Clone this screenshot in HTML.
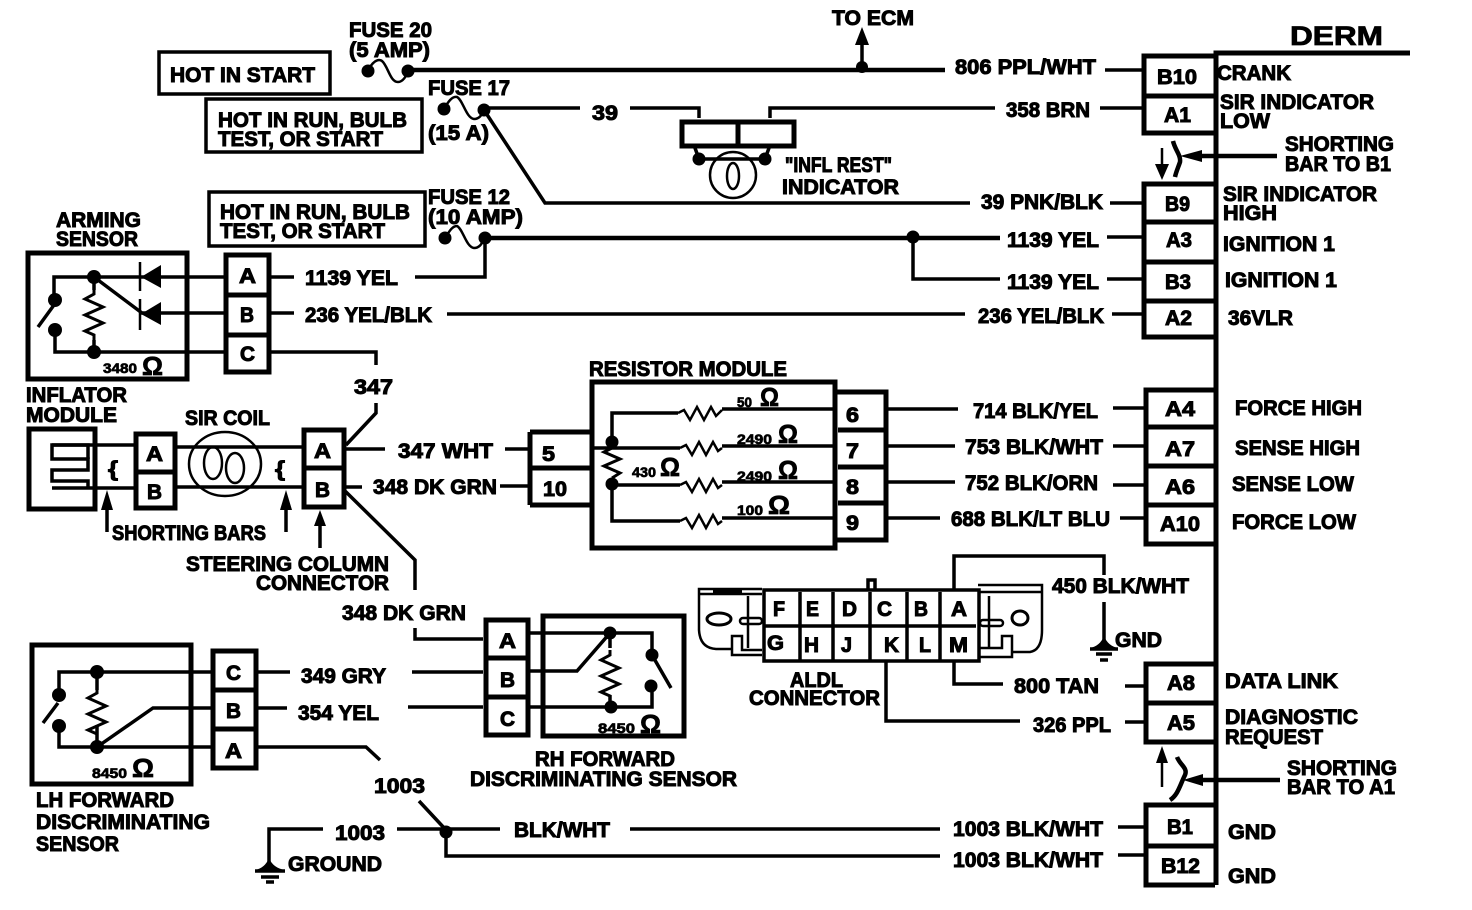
<!DOCTYPE html>
<html><head><meta charset="utf-8"><style>
html,body{margin:0;padding:0;background:#fff}
svg{display:block}
text{font-family:"Liberation Sans",sans-serif;font-weight:bold;font-size:21px;fill:#000;stroke:#000;stroke-width:1px}
.s{font-size:14px;stroke-width:.7px}
.m{font-size:26px;stroke-width:.8px}
.o{font-size:27px;stroke-width:.8px}
.w{fill:none;stroke:#000;stroke-width:3.5}
.h{fill:none;stroke:#000;stroke-width:4.5}
.b{fill:none;stroke:#000;stroke-width:5}
.t{fill:none;stroke:#000;stroke-width:2.5}
</style></head><body>
<svg width="1472" height="910" viewBox="0 0 1472 910" xmlns="http://www.w3.org/2000/svg">
<rect width="1472" height="910" fill="#fff"/>
<defs>
<g id="rv"><path class="t" style="stroke-width:3" d="M0 0 L0 5 L-9 10 L9 18 L-9 26 L9 34 L-9 42 L0 46 L0 51"/></g>
<g id="rh"><path class="t" style="stroke-width:2.5" d="M0 0 L6 -3 L12 7 L19 -6 L26 7 L33 -6 L38 3 L42 0"/></g>
</defs>

<!-- DERM frame -->
<path class="b" d="M1410 53H1216V885"/>
<path class="b" d="M1215 56H1144V133H1215M1144 96H1215"/>
<path class="b" d="M1215 184H1144V337H1215M1144 222H1215M1144 262H1215M1144 301H1215"/>
<path class="b" d="M1215 390H1146V544H1215M1146 427H1215M1146 466H1215M1146 505H1215"/>
<path class="b" d="M1215 664H1146V742H1215M1146 703H1215"/>
<path class="b" d="M1215 805H1146V885H1215M1146 846H1215"/>

<!-- top wires -->
<path class="t" d="M368 71C372 62 378 58 382 61C388 66 390 82 398 82C403 82 406 76 408 72"/>
<path class="h" d="M408 70H945"/><path class="w" d="M1105 70H1143"/>
<path class="w" d="M862 70V42"/>
<polygon points="862,27 855,45 869,45"/>
<circle cx="368" cy="71" r="6.5"/><circle cx="408" cy="71" r="6.5"/><circle cx="862" cy="67" r="6"/>

<path class="t" d="M444 109C448 102 452 96 457 97C463 100 466 118 474 119C480 119 482 114 484 110"/>
<path class="w" d="M484 108H580M630 108H699V118M770 118V108H995M1100 108H1143"/>
<path class="w" d="M484 110L545 203H970M1110 203H1143"/>
<circle cx="444" cy="109" r="6.5"/><circle cx="484" cy="110" r="6.5"/>

<rect x="682" y="122" width="112" height="24" class="b"/><path class="b" d="M738 122V146"/>
<path class="w" d="M695 148L699 159H765L769 148"/>
<circle cx="699" cy="159" r="6.5"/><circle cx="765" cy="159" r="6.5"/>
<circle cx="733" cy="175" r="23" class="t"/>
<ellipse cx="733" cy="176" rx="6" ry="13" class="t"/>

<path class="t" d="M445 238C449 232 452 226 457 226C463 229 466 247 474 248C480 248 482 243 485 238"/>
<path class="h" d="M485 238H1000"/><path class="w" d="M1107 237H1143"/>
<path class="w" d="M913 237V279H1000M1107 279H1143M485 238V277H415"/>
<circle cx="445" cy="238" r="6.5"/><circle cx="485" cy="238" r="6.5"/><circle cx="913" cy="237" r="6.5"/>
<path class="w" d="M447 314H965M1112 314H1143"/>

<!-- label boxes -->
<rect x="159" y="52" width="171" height="42" class="w"/>
<rect x="206" y="99" width="216" height="53" class="w"/>
<rect x="209" y="192" width="216" height="54" class="w"/>

<!-- arming sensor -->
<rect x="28" y="253" width="159" height="126" class="b"/>
<path class="b" d="M226 255H269V372H226ZM226 295H269M226 335H269"/>
<path class="w" d="M54 300V277H224M55 330V352H224M94 277V290M94 340V352"/>
<use href="#rv" x="94" y="289"/>
<path class="w" d="M94 277L142 313M140 313H224M271 277H294M271 313H294M271 352H376V365M38 327L54 305"/>
<circle cx="55" cy="300" r="7"/><circle cx="55" cy="330" r="7"/><circle cx="94" cy="277" r="7"/><circle cx="94" cy="352" r="7"/>
<polygon points="141,277 161,265 161,288"/><polygon points="141,314 161,302 161,325"/>
<path class="t" d="M140 262V291M140 299V330"/>

<!-- inflator & coil -->
<rect x="29" y="429" width="66" height="80" class="b"/>
<path class="w" d="M97 445H52V459H88V470H52V481H88V488"/>
<path class="w" d="M52 445H88V459M52 488H97"/>
<path class="w" d="M97 445H134M97 488H134M176 447H302M176 487H302"/>
<path class="b" d="M136 434H175V508H136ZM136 472H175"/>
<ellipse cx="225" cy="464" rx="36" ry="32" class="t"/>
<ellipse cx="213" cy="463" rx="9" ry="16" class="t"/><ellipse cx="235" cy="468" rx="9" ry="15" class="t"/>
<path class="b" d="M304 430H344V507H304ZM304 468H344"/>
<path class="w" d="M376 403V413L346 445M346 449H385M346 487H362M344 490L415 560V590"/>
<path class="w" d="M505 449H530M500 486H530"/>
<path class="b" d="M530 432H592M530 505H592M530 432V505M530 468H592"/>

<!-- resistor module -->
<rect x="592" y="382" width="243" height="166" class="b"/>
<path class="b" d="M835 392H886V540H835M838 430H886M838 467H886M838 503H886"/>
<path class="w" d="M612 442V413H678M722 409H835M592 448H680M722 446H835M612 485H680M722 482H835M612 485V521H680M722 518H835"/>
<path class="t" d="M678 413L684 410L690 420L697 407L704 420L711 407L716 416L722 410"/>
<use href="#rh" x="680" y="448"/><use href="#rh" x="680" y="485"/><use href="#rh" x="680" y="521"/>
<path class="t" style="stroke-width:3" d="M612 448L604 452L620 459L604 466L620 473L612 478"/>
<circle cx="612" cy="442" r="6.5"/><circle cx="612" cy="484" r="6.5"/>
<path class="w" d="M888 409H958M888 446H955M888 482H955M888 518H940M1113 408H1146M1113 446H1146M1113 485H1146M1120 518H1146"/>

<!-- ALDL -->
<rect x="764" y="590" width="215" height="71" class="w" style="stroke-width:3.5"/>
<path class="w" d="M764 626H976M800 592V660M833 592V660M870 592V660M907 592V660M940 592V660"/>
<path class="w" d="M868 590V580H875V590"/>
<!-- left tab -->
<path class="t" d="M762 589H699V630Q700 648 716 649H732V636H742V650H762M732 649V655H762M748 596V648M700 594H762"/>
<path class="b" d="M713 591H742"/>
<rect x="740" y="618" width="22" height="6" rx="3" class="t"/>
<ellipse cx="719" cy="619" rx="12" ry="6" class="t" style="stroke-width:3"/>
<!-- right tab -->
<path class="t" d="M978 585H1042V630Q1042 650 1030 652H1012V636H1002V648H980M1012 652V657H978M989 596V648M980 592H1042"/>
<rect x="980" y="620" width="23" height="6" rx="3" class="t"/>
<ellipse cx="1020" cy="618" rx="8" ry="7" class="t" style="stroke-width:3"/>
<path class="w" d="M954 590V556H1104V575M1104 602V645M954 662V684H1003M1125 686H1146M886 662V721H1020M1125 722H1146"/>
<path d="M1090 648Q1100 646 1104 636Q1108 646 1118 648Z"/>
<path class="w" d="M1090 649H1118M1096 654H1112M1100 660H1108"/>

<!-- RH sensor -->
<path class="w" d="M415 628V639H483M412 672H483M408 707H483"/>
<path class="b" d="M486 620H528V735H486ZM486 658H528M486 697H528"/>
<rect x="543" y="616" width="141" height="120" class="b"/>
<path class="w" d="M530 633H652V652M530 671H577L610 633M530 707H652V686M610 633V648M610 695V707M652 655L671 688"/>
<use href="#rv" x="610" y="650"/>
<circle cx="610" cy="633" r="6.5"/><circle cx="611" cy="707" r="6.5"/><circle cx="652" cy="655" r="6.5"/><circle cx="651" cy="686" r="6.5"/>

<!-- LH sensor -->
<rect x="32" y="645" width="159" height="139" class="b"/>
<path class="b" d="M213 651H256V768H213ZM213 690H256M213 729H256"/>
<path class="w" d="M59 695V672H213M59 726V747H213M97 672V690M97 725V747M97 747L153 708H213M43 723L58 703M258 672H290M258 708H287M258 747H366L380 760M419 801L446 830"/>
<use href="#rv" x="97" y="688"/>
<circle cx="59" cy="695" r="7"/><circle cx="59" cy="726" r="7"/><circle cx="97" cy="672" r="7"/><circle cx="97" cy="747" r="7"/>

<!-- bottom wires -->
<path class="w" d="M323 829H269V862M397 829H500M630 829H940M1118 827H1146M446 832V856H940M1118 855H1146"/>
<circle cx="446" cy="832" r="6.5"/>
<path d="M255 870Q265 868 269 858Q273 868 285 870Z"/>
<path class="w" d="M255 871H285M261 877H279M266 882H274"/>

<!-- arrows -->
<path class="w" d="M107 532V508M286 532V508M320 548V524"/>
<polygon points="107,490 101,510 113,510"/><polygon points="286,490 280,510 292,510"/><polygon points="320,510 314,526 326,526"/>
<path class="t" d="M1162 148V166"/><polygon points="1162,180 1155,164 1169,164"/>
<path class="t" d="M1162 787V760"/><polygon points="1162,746 1156,763 1168,763"/>
<path class="h" d="M1200 156H1277M1200 780H1280"/>
<polygon points="1180,156 1202,150 1202,162"/><polygon points="1183,780 1203,774 1203,786"/>
<path class="h" d="M1173 141C1175 150 1181 155 1180 162C1178 168 1176 172 1175 177M1177 757C1180 765 1188 768 1185 775C1180 785 1178 795 1170 800"/>

<!-- text -->
<text x="349" y="37" textLength="83" lengthAdjust="spacingAndGlyphs">FUSE 20</text>
<text x="349" y="57" textLength="81" lengthAdjust="spacingAndGlyphs">(5 AMP)</text>
<text x="832" y="25" textLength="82" lengthAdjust="spacingAndGlyphs">TO ECM</text>
<text class="o" x="1290" y="45" textLength="93" lengthAdjust="spacingAndGlyphs">DERM</text>
<text x="955" y="74" textLength="141" lengthAdjust="spacingAndGlyphs">806  PPL/WHT</text>
<text x="1157" y="84" textLength="40" lengthAdjust="spacingAndGlyphs">B10</text>
<text x="1217" y="80" textLength="74" lengthAdjust="spacingAndGlyphs">CRANK</text>
<text x="1164" y="122" textLength="27" lengthAdjust="spacingAndGlyphs">A1</text>
<text x="1220" y="109" textLength="154" lengthAdjust="spacingAndGlyphs">SIR INDICATOR</text>
<text x="1220" y="128" textLength="50" lengthAdjust="spacingAndGlyphs">LOW</text>
<text x="1285" y="151" textLength="109" lengthAdjust="spacingAndGlyphs">SHORTING</text>
<text x="1285" y="171" textLength="106" lengthAdjust="spacingAndGlyphs">BAR TO B1</text>
<text x="170" y="82" textLength="145" lengthAdjust="spacingAndGlyphs">HOT IN START</text>
<text x="218" y="127" textLength="189" lengthAdjust="spacingAndGlyphs">HOT IN RUN, BULB</text>
<text x="218" y="146" textLength="165" lengthAdjust="spacingAndGlyphs">TEST, OR START</text>
<text x="428" y="95" textLength="82" lengthAdjust="spacingAndGlyphs">FUSE 17</text>
<text x="428" y="140" textLength="61" lengthAdjust="spacingAndGlyphs">(15 A)</text>
<text x="592" y="120" textLength="26" lengthAdjust="spacingAndGlyphs">39</text>
<text x="1006" y="117" textLength="84" lengthAdjust="spacingAndGlyphs">358 BRN</text>
<text x="981" y="209" textLength="122" lengthAdjust="spacingAndGlyphs">39  PNK/BLK</text>
<text x="1165" y="211" textLength="25" lengthAdjust="spacingAndGlyphs">B9</text>
<text x="1223" y="201" textLength="154" lengthAdjust="spacingAndGlyphs">SIR INDICATOR</text>
<text x="1223" y="220" textLength="54" lengthAdjust="spacingAndGlyphs">HIGH</text>
<text x="785" y="172" textLength="107" lengthAdjust="spacingAndGlyphs">"INFL REST"</text>
<text x="782" y="194" textLength="117" lengthAdjust="spacingAndGlyphs">INDICATOR</text>
<text x="220" y="219" textLength="190" lengthAdjust="spacingAndGlyphs">HOT IN RUN, BULB</text>
<text x="220" y="238" textLength="165" lengthAdjust="spacingAndGlyphs">TEST, OR START</text>
<text x="428" y="204" textLength="82" lengthAdjust="spacingAndGlyphs">FUSE 12</text>
<text x="428" y="224" textLength="95" lengthAdjust="spacingAndGlyphs">(10 AMP)</text>
<text x="56" y="227" textLength="85" lengthAdjust="spacingAndGlyphs">ARMING</text>
<text x="56" y="246" textLength="82" lengthAdjust="spacingAndGlyphs">SENSOR</text>
<text x="1007" y="247" textLength="92" lengthAdjust="spacingAndGlyphs">1139 YEL</text>
<text x="1166" y="247" textLength="26" lengthAdjust="spacingAndGlyphs">A3</text>
<text x="1223" y="251" textLength="112" lengthAdjust="spacingAndGlyphs">IGNITION 1</text>
<text x="1007" y="289" textLength="92" lengthAdjust="spacingAndGlyphs">1139 YEL</text>
<text x="1165" y="289" textLength="26" lengthAdjust="spacingAndGlyphs">B3</text>
<text x="1225" y="287" textLength="112" lengthAdjust="spacingAndGlyphs">IGNITION 1</text>
<text x="305" y="285" textLength="93" lengthAdjust="spacingAndGlyphs">1139 YEL</text>
<text x="305" y="322" textLength="127" lengthAdjust="spacingAndGlyphs">236 YEL/BLK</text>
<text x="978" y="323" textLength="126" lengthAdjust="spacingAndGlyphs">236 YEL/BLK</text>
<text x="1165" y="325" textLength="27" lengthAdjust="spacingAndGlyphs">A2</text>
<text x="1228" y="325" textLength="65" lengthAdjust="spacingAndGlyphs">36VLR</text>
<text x="239" y="283" textLength="17" lengthAdjust="spacingAndGlyphs">A</text>
<text x="240" y="322" textLength="14" lengthAdjust="spacingAndGlyphs">B</text>
<text x="240" y="361" textLength="15" lengthAdjust="spacingAndGlyphs">C</text>
<text class="s" x="103" y="373" textLength="34" lengthAdjust="spacingAndGlyphs">3480</text>
<text class="m" x="142" y="375" textLength="21" lengthAdjust="spacingAndGlyphs">Ω</text>
<text x="354" y="394" textLength="39" lengthAdjust="spacingAndGlyphs">347</text>
<text x="26" y="402" textLength="101" lengthAdjust="spacingAndGlyphs">INFLATOR</text>
<text x="26" y="422" textLength="91" lengthAdjust="spacingAndGlyphs">MODULE</text>
<text x="185" y="425" textLength="85" lengthAdjust="spacingAndGlyphs">SIR COIL</text>
<text x="146" y="461" textLength="17" lengthAdjust="spacingAndGlyphs">A</text>
<text x="147" y="499" textLength="15" lengthAdjust="spacingAndGlyphs">B</text>
<text x="314" y="458" textLength="17" lengthAdjust="spacingAndGlyphs">A</text>
<text x="315" y="497" textLength="15" lengthAdjust="spacingAndGlyphs">B</text>
<text x="108" y="476" textLength="10" lengthAdjust="spacingAndGlyphs">{</text>
<text x="275" y="476" textLength="10" lengthAdjust="spacingAndGlyphs">{</text>
<text x="398" y="458" textLength="95" lengthAdjust="spacingAndGlyphs">347 WHT</text>
<text x="373" y="494" textLength="124" lengthAdjust="spacingAndGlyphs">348 DK GRN</text>
<text x="542" y="461" textLength="13" lengthAdjust="spacingAndGlyphs">5</text>
<text x="543" y="496" textLength="24" lengthAdjust="spacingAndGlyphs">10</text>
<text x="589" y="376" textLength="198" lengthAdjust="spacingAndGlyphs">RESISTOR MODULE</text>
<text class="s" x="737" y="407" textLength="15" lengthAdjust="spacingAndGlyphs">50</text>
<text class="m" x="760" y="406" textLength="19" lengthAdjust="spacingAndGlyphs">Ω</text>
<text class="s" x="737" y="444" textLength="35" lengthAdjust="spacingAndGlyphs">2490</text>
<text class="m" x="778" y="443" textLength="20" lengthAdjust="spacingAndGlyphs">Ω</text>
<text class="s" x="737" y="481" textLength="35" lengthAdjust="spacingAndGlyphs">2490</text>
<text class="m" x="778" y="479" textLength="20" lengthAdjust="spacingAndGlyphs">Ω</text>
<text class="s" x="737" y="515" textLength="26" lengthAdjust="spacingAndGlyphs">100</text>
<text class="m" x="768" y="514" textLength="22" lengthAdjust="spacingAndGlyphs">Ω</text>
<text class="s" x="632" y="477" textLength="24" lengthAdjust="spacingAndGlyphs">430</text>
<text class="m" x="660" y="476" textLength="20" lengthAdjust="spacingAndGlyphs">Ω</text>
<text x="846" y="422" textLength="13" lengthAdjust="spacingAndGlyphs">6</text>
<text x="846" y="458" textLength="13" lengthAdjust="spacingAndGlyphs">7</text>
<text x="846" y="494" textLength="13" lengthAdjust="spacingAndGlyphs">8</text>
<text x="846" y="530" textLength="13" lengthAdjust="spacingAndGlyphs">9</text>
<text x="973" y="418" textLength="125" lengthAdjust="spacingAndGlyphs">714 BLK/YEL</text>
<text x="965" y="454" textLength="138" lengthAdjust="spacingAndGlyphs">753 BLK/WHT</text>
<text x="965" y="490" textLength="133" lengthAdjust="spacingAndGlyphs">752 BLK/ORN</text>
<text x="951" y="526" textLength="159" lengthAdjust="spacingAndGlyphs">688 BLK/LT BLU</text>
<text x="1165" y="416" textLength="30" lengthAdjust="spacingAndGlyphs">A4</text>
<text x="1165" y="456" textLength="30" lengthAdjust="spacingAndGlyphs">A7</text>
<text x="1165" y="494" textLength="30" lengthAdjust="spacingAndGlyphs">A6</text>
<text x="1160" y="531" textLength="40" lengthAdjust="spacingAndGlyphs">A10</text>
<text x="1235" y="415" textLength="127" lengthAdjust="spacingAndGlyphs">FORCE HIGH</text>
<text x="1235" y="455" textLength="125" lengthAdjust="spacingAndGlyphs">SENSE HIGH</text>
<text x="1232" y="491" textLength="122" lengthAdjust="spacingAndGlyphs">SENSE LOW</text>
<text x="1232" y="529" textLength="124" lengthAdjust="spacingAndGlyphs">FORCE LOW</text>
<text x="112" y="540" textLength="154" lengthAdjust="spacingAndGlyphs">SHORTING BARS</text>
<text x="186" y="571" textLength="203" lengthAdjust="spacingAndGlyphs">STEERING COLUMN</text>
<text x="256" y="590" textLength="133" lengthAdjust="spacingAndGlyphs">CONNECTOR</text>
<text x="342" y="620" textLength="124" lengthAdjust="spacingAndGlyphs">348 DK GRN</text>
<text x="499" y="648" textLength="17" lengthAdjust="spacingAndGlyphs">A</text>
<text x="500" y="687" textLength="15" lengthAdjust="spacingAndGlyphs">B</text>
<text x="500" y="726" textLength="15" lengthAdjust="spacingAndGlyphs">C</text>
<text class="s" x="598" y="733" textLength="37" lengthAdjust="spacingAndGlyphs">8450</text>
<text class="m" x="640" y="733" textLength="21" lengthAdjust="spacingAndGlyphs">Ω</text>
<text x="535" y="766" textLength="140" lengthAdjust="spacingAndGlyphs">RH FORWARD</text>
<text x="470" y="786" textLength="267" lengthAdjust="spacingAndGlyphs">DISCRIMINATING SENSOR</text>
<text x="226" y="680" textLength="15" lengthAdjust="spacingAndGlyphs">C</text>
<text x="226" y="718" textLength="15" lengthAdjust="spacingAndGlyphs">B</text>
<text x="225" y="758" textLength="17" lengthAdjust="spacingAndGlyphs">A</text>
<text x="301" y="683" textLength="85" lengthAdjust="spacingAndGlyphs">349 GRY</text>
<text x="298" y="720" textLength="81" lengthAdjust="spacingAndGlyphs">354 YEL</text>
<text class="s" x="92" y="778" textLength="35" lengthAdjust="spacingAndGlyphs">8450</text>
<text class="m" x="132" y="777" textLength="22" lengthAdjust="spacingAndGlyphs">Ω</text>
<text x="36" y="807" textLength="138" lengthAdjust="spacingAndGlyphs">LH FORWARD</text>
<text x="36" y="829" textLength="174" lengthAdjust="spacingAndGlyphs">DISCRIMINATING</text>
<text x="36" y="851" textLength="83" lengthAdjust="spacingAndGlyphs">SENSOR</text>
<text x="374" y="793" textLength="51" lengthAdjust="spacingAndGlyphs">1003</text>
<text x="335" y="840" textLength="50" lengthAdjust="spacingAndGlyphs">1003</text>
<text x="514" y="837" textLength="96" lengthAdjust="spacingAndGlyphs">BLK/WHT</text>
<text x="953" y="836" textLength="150" lengthAdjust="spacingAndGlyphs">1003 BLK/WHT</text>
<text x="953" y="867" textLength="150" lengthAdjust="spacingAndGlyphs">1003 BLK/WHT</text>
<text x="288" y="871" textLength="94" lengthAdjust="spacingAndGlyphs">GROUND</text>
<text x="773" y="616" textLength="12" lengthAdjust="spacingAndGlyphs">F</text>
<text x="806" y="616" textLength="13" lengthAdjust="spacingAndGlyphs">E</text>
<text x="842" y="616" textLength="15" lengthAdjust="spacingAndGlyphs">D</text>
<text x="877" y="616" textLength="15" lengthAdjust="spacingAndGlyphs">C</text>
<text x="914" y="616" textLength="14" lengthAdjust="spacingAndGlyphs">B</text>
<text x="951" y="616" textLength="16" lengthAdjust="spacingAndGlyphs">A</text>
<text x="767" y="650" textLength="17" lengthAdjust="spacingAndGlyphs">G</text>
<text x="804" y="652" textLength="15" lengthAdjust="spacingAndGlyphs">H</text>
<text x="841" y="652" textLength="11" lengthAdjust="spacingAndGlyphs">J</text>
<text x="884" y="652" textLength="15" lengthAdjust="spacingAndGlyphs">K</text>
<text x="919" y="652" textLength="12" lengthAdjust="spacingAndGlyphs">L</text>
<text x="949" y="652" textLength="19" lengthAdjust="spacingAndGlyphs">M</text>
<text x="790" y="687" textLength="53" lengthAdjust="spacingAndGlyphs">ALDL</text>
<text x="749" y="705" textLength="131" lengthAdjust="spacingAndGlyphs">CONNECTOR</text>
<text x="1052" y="593" textLength="137" lengthAdjust="spacingAndGlyphs">450 BLK/WHT</text>
<text x="1115" y="647" textLength="47" lengthAdjust="spacingAndGlyphs">GND</text>
<text x="1014" y="693" textLength="85" lengthAdjust="spacingAndGlyphs">800 TAN</text>
<text x="1033" y="732" textLength="78" lengthAdjust="spacingAndGlyphs">326 PPL</text>
<text x="1167" y="690" textLength="28" lengthAdjust="spacingAndGlyphs">A8</text>
<text x="1167" y="730" textLength="28" lengthAdjust="spacingAndGlyphs">A5</text>
<text x="1225" y="688" textLength="113" lengthAdjust="spacingAndGlyphs">DATA LINK</text>
<text x="1225" y="724" textLength="133" lengthAdjust="spacingAndGlyphs">DIAGNOSTIC</text>
<text x="1225" y="744" textLength="98" lengthAdjust="spacingAndGlyphs">REQUEST</text>
<text x="1287" y="775" textLength="110" lengthAdjust="spacingAndGlyphs">SHORTING</text>
<text x="1287" y="794" textLength="108" lengthAdjust="spacingAndGlyphs">BAR TO A1</text>
<text x="1167" y="834" textLength="26" lengthAdjust="spacingAndGlyphs">B1</text>
<text x="1161" y="873" textLength="39" lengthAdjust="spacingAndGlyphs">B12</text>
<text x="1228" y="839" textLength="48" lengthAdjust="spacingAndGlyphs">GND</text>
<text x="1228" y="883" textLength="48" lengthAdjust="spacingAndGlyphs">GND</text>
</svg>
</body></html>
